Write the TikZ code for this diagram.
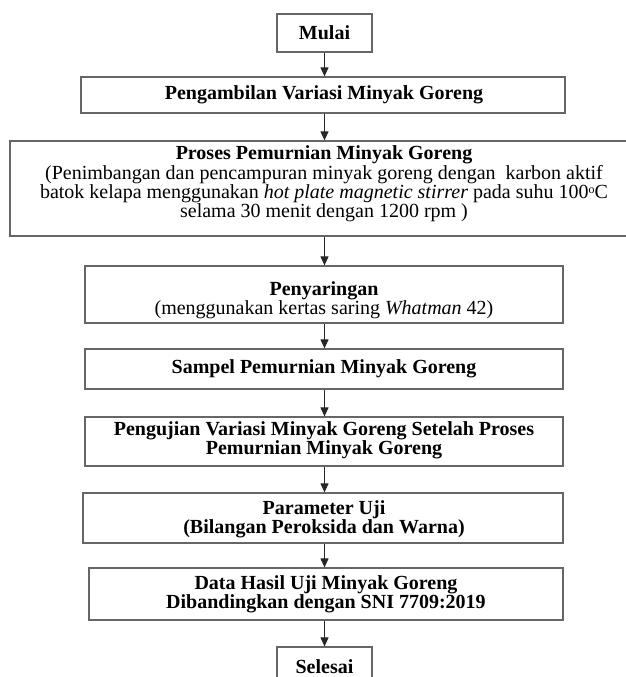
\documentclass[tikz,border=0pt]{standalone}
\usepackage{fontspec}
\setmainfont{Liberation Serif}
\usetikzlibrary{arrows.meta}
\begin{document}
\begin{tikzpicture}[x=1pt,y=-1pt,
  box/.style={draw=black!60, line width=1.2pt, inner sep=0pt},
  txt/.style={align=center, inner sep=0pt, font=\fontsize{20}{20}\selectfont},
  arr/.style={draw=black!85, line width=1pt, -{Triangle[width=8pt,length=9pt]}}]
\useasboundingbox (0,0) rectangle (626,677);
% boxes
\node[box, minimum width=95pt,  minimum height=38pt] (mulaiB) at (324.5,33) {};
\node[box, minimum width=484pt, minimum height=36pt] (b2) at (323,95) {};
\node[box, minimum width=620pt, minimum height=95pt] (b3) at (320,188.5) {};
\node[box, minimum width=478pt, minimum height=57pt] (b4) at (324,294.5) {};
\node[box, minimum width=478pt, minimum height=40pt] (b5) at (324,369) {};
\node[box, minimum width=478pt, minimum height=49pt] (b6) at (324,441.5) {};
\node[box, minimum width=480pt, minimum height=50pt] (b7) at (323,518) {};
\node[box, minimum width=474pt, minimum height=52pt] (b8) at (326,594) {};
\node[box, minimum width=95pt,  minimum height=43pt] (selB) at (324.5,668.5) {};
% texts
\node[txt] (t1) at (324.5,33) {\bfseries Mulai};
\node[txt] (t2) at (324,95) {\bfseries Pengambilan Variasi Minyak Goreng};
\node[txt, font=\fontsize{20}{17.2}\selectfont] (t3) at (324,184) {{\bfseries Proses Pemurnian Minyak Goreng}\\
(Penimbangan dan pencampuran minyak goreng dengan~ karbon aktif\\
batok kelapa menggunakan \textit{hot plate magnetic stirrer} pada suhu 100\raisebox{5pt}{\fontsize{12}{12}\selectfont o}C\\
selama 30 menit dengan 1200 rpm )};
\node[txt, font=\fontsize{20}{19}\selectfont] (t4) at (324,300) {{\bfseries Penyaringan}\\(menggunakan kertas saring \textit{Whatman} 42)};
\node[txt] (t5) at (324,369) {\bfseries Sampel Pemurnian Minyak Goreng};
\node[txt, font=\fontsize{20}{16}\selectfont\bfseries] (t6) at (324,440) {Pengujian Variasi Minyak Goreng Setelah Proses\\Pemurnian Minyak Goreng};
\node[txt, font=\fontsize{20}{18.5}\selectfont\bfseries] (t7) at (324,519.5) {Parameter Uji\\(Bilangan Peroksida dan Warna)};
\node[txt, font=\fontsize{20}{18}\selectfont\bfseries] (t8) at (326,594.5) {Data Hasil Uji Minyak Goreng\\Dibandingkan dengan SNI 7709:2019};
\node[txt] (t9) at (324.5,667) {\bfseries Selesai};
% arrows
\draw[arr] (mulaiB.south) -- (b2.north -| mulaiB);
\draw[arr] (b2.south -| mulaiB) -- (b3.north -| mulaiB);
\draw[arr] (b3.south -| mulaiB) -- (b4.north -| mulaiB);
\draw[arr] (b4.south -| mulaiB) -- (b5.north -| mulaiB);
\draw[arr] (b5.south -| mulaiB) -- (b6.north -| mulaiB);
\draw[arr] (b6.south -| mulaiB) -- (b7.north -| mulaiB);
\draw[arr] (b7.south -| mulaiB) -- (b8.north -| mulaiB);
\draw[arr] (b8.south -| mulaiB) -- (selB.north);
\end{tikzpicture}
\end{document}
